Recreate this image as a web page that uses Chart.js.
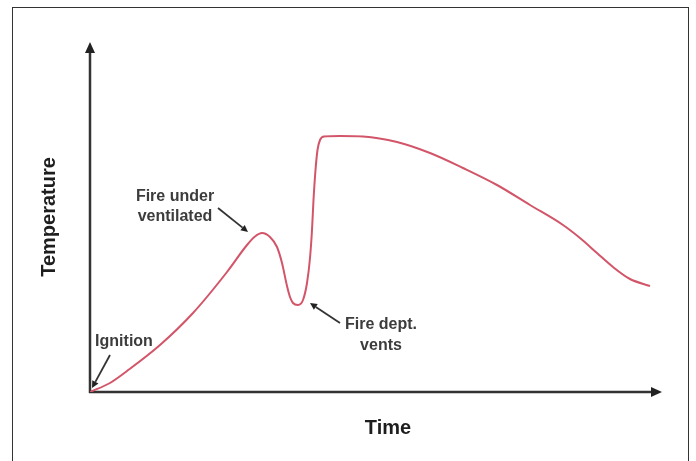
<!DOCTYPE html>
<html>
<head>
<meta charset="utf-8">
<script src="https://cdn.jsdelivr.net/npm/chart.js@4.4.1/dist/chart.umd.min.js"></script>
<style>
  html, body { margin: 0; padding: 0; background: #ffffff; overflow: hidden; }
  #wrap { position: relative; width: 696px; height: 461px; }
  #frame { position: absolute; left: 12px; top: 7px; width: 677px; height: 480px; border: 1.5px solid #333; box-sizing: border-box; pointer-events: none; }
  canvas { position: absolute; left: 0; top: 0; }
</style>
</head>
<body>
<div id="wrap">
  <div id="frame"></div>
  <canvas id="c" width="696" height="461"></canvas>
</div>
<script>
// ---- Data (arbitrary units) ----
const timeValues = [0, 20, 37, 70, 103, 137, 157, 165, 172, 180, 187, 192, 197, 200, 203, 208, 213, 217, 220, 222, 223.5, 225.5, 227.5, 230, 234, 250, 273, 307, 340, 373, 407, 440, 473, 490, 507, 523, 540, 560];
const temperatureValues = [0, 9, 21, 47, 79, 120, 147, 155.5, 159, 155, 145, 129, 106, 95, 89, 87, 92, 109, 134, 162, 192, 222, 242, 252, 255.5, 256, 255.5, 250, 239, 224, 207, 187, 167, 154, 139, 125, 113, 106];
const timeRange = [0, 596];
const temperatureRange = [0, 350];
const xAxisTitle = 'Time';
const yAxisTitle = 'Temperature';
// annotation texts with anchors in data units
const annotationTexts = [['Ignition'], ['Fire under', 'ventilated'], ['Fire dept.', 'vents']];
const annotationTextAt = [[34, [50]], [85, [195, 175]], [291, [67, 46]]];
const annotationArrowTail = [[20, 37], [128, 184], [250, 69]];
const annotationArrowTip = [[2, 4], [158, 160], [220, 89]];

const points = timeValues.map((t, i) => ({ x: t, y: temperatureValues[i] }));

function arrow(ctx, x1, y1, x2, y2, head, half) {
  const a = Math.atan2(y2 - y1, x2 - x1);
  const bx = x2 - head * Math.cos(a), by = y2 - head * Math.sin(a);
  ctx.beginPath();
  ctx.moveTo(x1, y1);
  ctx.lineTo(bx, by);
  ctx.stroke();
  ctx.beginPath();
  ctx.moveTo(x2, y2);
  ctx.lineTo(bx + half * Math.sin(a), by - half * Math.cos(a));
  ctx.lineTo(bx - half * Math.sin(a), by + half * Math.cos(a));
  ctx.closePath();
  ctx.fill();
}

const decorPlugin = {
  id: 'decor',
  beforeDatasetsDraw(chart) {
    const { ctx, chartArea, scales } = chart;
    const x0 = scales.x.getPixelForValue(0);
    const y0 = scales.y.getPixelForValue(0);
    ctx.save();
    ctx.strokeStyle = '#333333';
    ctx.fillStyle = '#222222';
    ctx.lineWidth = 2.5;
    ctx.lineCap = 'butt';
    arrow(ctx, x0, y0 + 1, x0, chartArea.top, 11, 5);
    arrow(ctx, x0 - 1, y0, chartArea.right - 24, y0, 11, 5);
    ctx.restore();
  },
  afterDraw(chart) {
    const { ctx, scales } = chart;
    const X = v => scales.x.getPixelForValue(v);
    const Y = v => scales.y.getPixelForValue(v);
    ctx.save();
    ctx.font = 'bold 16px "Liberation Sans", Arial, sans-serif';
    ctx.fillStyle = '#3c3c3c';
    ctx.textAlign = 'center';
    ctx.textBaseline = 'middle';
    annotationTexts.forEach((lines, i) => {
      const [tx, tys] = annotationTextAt[i];
      lines.forEach((s, j) => ctx.fillText(s, X(tx), Y(tys[j])));
    });
    ctx.strokeStyle = '#333333';
    ctx.fillStyle = '#222222';
    ctx.lineWidth = 1.8;
    annotationArrowTail.forEach((tail, i) => {
      const tip = annotationArrowTip[i];
      arrow(ctx, X(tail[0]), Y(tail[1]), X(tip[0]), Y(tip[1]), 7, 3.5);
    });
    ctx.restore();
  }
};

new Chart(document.getElementById('c'), {
  type: 'line',
  data: {
    datasets: [{
      data: points,
      borderColor: 'rgb(210, 85, 105)',
      borderWidth: 2,
      pointRadius: 0,
      fill: false,
      cubicInterpolationMode: 'monotone'
    }]
  },
  options: {
    responsive: false,
    animation: false,
    devicePixelRatio: 1,
    layout: { padding: { left: 25, right: 10, top: 42, bottom: 10 } },
    plugins: { legend: { display: false }, tooltip: { enabled: false } },
    scales: {
      x: {
        type: 'linear',
        min: timeRange[0],
        max: timeRange[1],
        grid: { display: false, drawTicks: false },
        border: { display: false },
        ticks: { display: false },
        title: {
          display: true,
          text: xAxisTitle,
          color: '#1e1e1e',
          font: { family: '"Liberation Sans", Arial, sans-serif', size: 20, weight: 'bold' },
          padding: { top: 24, bottom: 11 }
        }
      },
      y: {
        type: 'linear',
        min: temperatureRange[0],
        max: temperatureRange[1],
        grid: { display: false, drawTicks: false },
        border: { display: false },
        ticks: { display: false },
        title: {
          display: true,
          text: yAxisTitle,
          color: '#1e1e1e',
          font: { family: '"Liberation Sans", Arial, sans-serif', size: 20, weight: 'bold' },
          padding: { top: 12, bottom: 29 }
        }
      }
    }
  },
  plugins: [decorPlugin]
});
</script>
</body>
</html>
